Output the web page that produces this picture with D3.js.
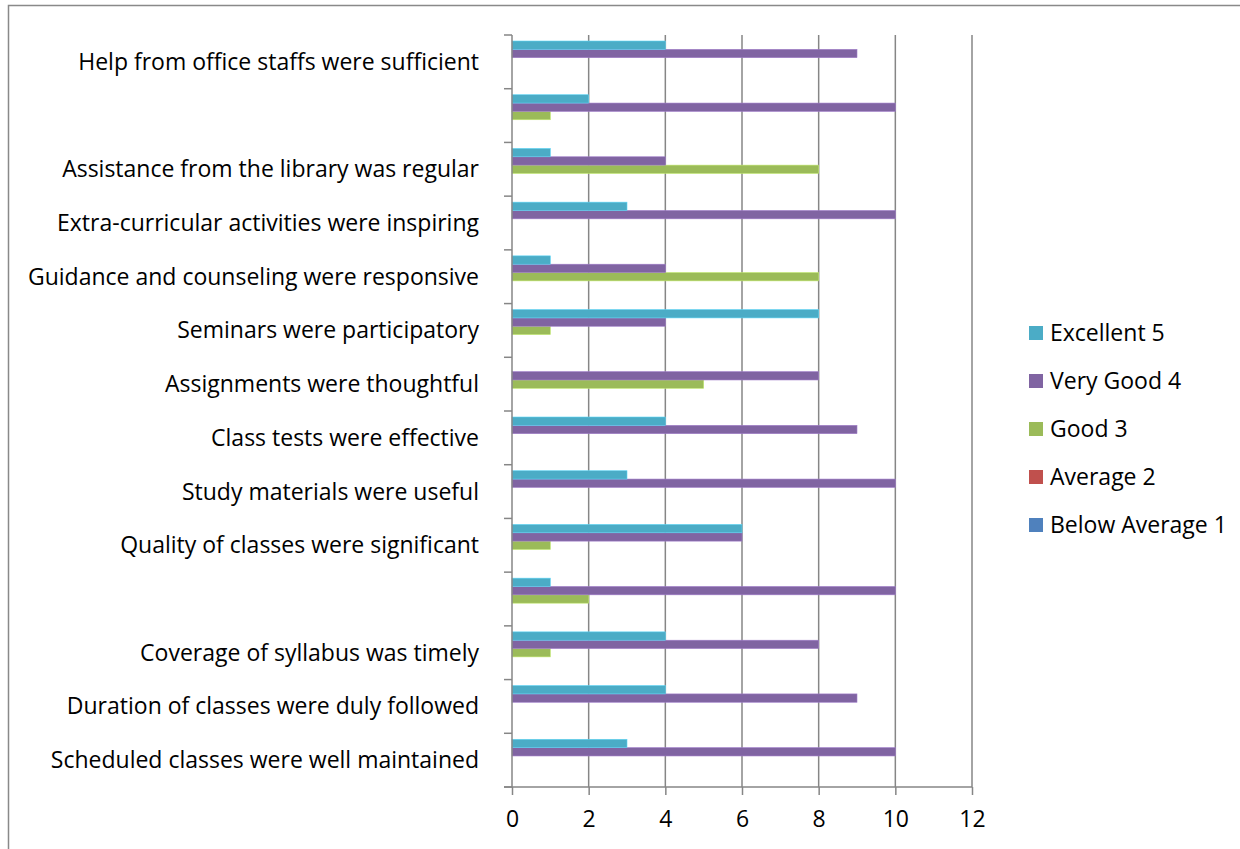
<!DOCTYPE html>
<html>
<head>
<meta charset="utf-8">
<script src="https://cdn.jsdelivr.net/npm/d3@7"></script>
<style>
  body { margin: 0; background: #fff; }
  text { font-family: "Open Sans", sans-serif; fill: #000; }
</style>
</head>
<body>
<div class="chart"></div>
<script>
// categories, bottom to top as in the sheet (two rows have no label)
const categories = [
  "Scheduled classes were well maintained",
  "Duration of classes were duly followed",
  "Coverage of syllabus was timely",
  "",
  "Quality of classes were significant",
  "Study materials were useful",
  "Class tests were effective",
  "Assignments were thoughtful",
  "Seminars were participatory",
  "Guidance and counseling were responsive",
  "Extra-curricular activities were inspiring",
  "Assistance from the library was regular",
  " ",
  "Help from office staffs were sufficient"
];

const seriesNames = ["Below Average 1", "Average 2", "Good 3", "Very Good 4", "Excellent 5"];
const seriesColors = ["#4F81BD", "#C0504D", "#9BBB59", "#8064A2", "#4BACC6"];

const belowAverage = [0, 0, 0, 0, 0, 0, 0, 0, 0, 0, 0, 0, 0, 0];
const average      = [0, 0, 0, 0, 0, 0, 0, 0, 0, 0, 0, 0, 0, 0];
const good         = [0, 0, 1, 2, 1, 0, 0, 5, 1, 8, 0, 8, 1, 0];
const veryGood     = [10, 9, 8, 10, 6, 10, 9, 8, 4, 4, 10, 4, 10, 9];
const excellent    = [3, 4, 4, 1, 6, 3, 4, 0, 8, 1, 3, 1, 2, 4];

const xTicks = [0, 2, 4, 6, 8, 10, 12];

const seriesValues = [belowAverage, average, good, veryGood, excellent];

const W = 1240, H = 849;
const margin = { top: 35, left: 512 };
const width = 460, height = 752;
const fontSize = "23px";

const svg = d3.select(".chart").append("svg")
  .attr("width", W).attr("height", H);

// chart frame
svg.append("rect")
  .attr("x", 8.5).attr("y", 5.5)
  .attr("width", W).attr("height", H)
  .attr("fill", "none").attr("stroke", "#898989").attr("stroke-width", 1.5);

const g = svg.append("g").attr("transform", `translate(${margin.left}, ${margin.top})`);

const xScale = d3.scaleLinear().domain([0, 12]).range([0, width]);
// top of chart is the last category
const yScale = d3.scaleBand().domain(d3.range(categories.length).reverse()).range([0, height]);
const inner = d3.scaleBand().domain(d3.range(5).reverse())
  .range([0, yScale.bandwidth()]).paddingOuter(0.72).paddingInner(0);

// gridlines
g.selectAll(".grid").data(xTicks.slice(1)).enter().append("line")
  .attr("x1", d => xScale(d)).attr("x2", d => xScale(d))
  .attr("y1", 0).attr("y2", height)
  .attr("stroke", "#868686").attr("stroke-width", 1.5);

// bars
seriesValues.forEach((vals, s) => {
  g.selectAll(".bar-" + s).data(vals).enter().append("rect")
    .attr("x", 0)
    .attr("y", (d, i) => yScale(i) + inner(s))
    .attr("width", d => xScale(d))
    .attr("height", inner.bandwidth())
    .attr("fill", seriesColors[s])
    .attr("stroke", d3.color(seriesColors[s]).brighter(0.6))
    .attr("stroke-width", 0.6);
});

// y axis: ticks at band boundaries
const boundaries = d3.range(categories.length + 1).map(i => i * yScale.step());
g.selectAll(".ytick").data(boundaries).enter().append("line")
  .attr("x1", -8).attr("x2", 0)
  .attr("y1", d => d).attr("y2", d => d)
  .attr("stroke", "#868686").attr("stroke-width", 1.5);
g.append("line").attr("x1", 0).attr("x2", 0).attr("y1", 0).attr("y2", height)
  .attr("stroke", "#868686").attr("stroke-width", 1.5);

g.selectAll(".ylabel").data(categories).enter().append("text")
  .attr("x", -33)
  .attr("y", (d, i) => yScale(i) + yScale.bandwidth() / 2)
  .attr("dy", "0.35em")
  .attr("text-anchor", "end")
  .style("font-size", fontSize)
  .text(d => d.trim());

// x axis
const xAxis = d3.axisBottom(xScale).tickValues(xTicks).tickSize(8).tickPadding(16)
  .tickFormat(d3.format("d"));
const xg = g.append("g").attr("transform", `translate(0, ${height})`).call(xAxis);
xg.select(".domain").attr("stroke", "#868686").attr("stroke-width", 1.5)
  .attr("d", `M-8,0H${width}`);
xg.selectAll(".tick line").attr("stroke", "#868686").attr("stroke-width", 1.5);
xg.selectAll(".tick text").style("font-size", fontSize).style("font-family", "'Open Sans', sans-serif");

// legend, top entry is Excellent
const legendOrder = [4, 3, 2, 1, 0];
const legend = svg.append("g").attr("transform", "translate(1029, 333)");
const items = legend.selectAll(".item").data(legendOrder).enter().append("g")
  .attr("transform", (d, i) => `translate(0, ${i * 48})`);
items.append("rect").attr("x", 0).attr("y", -7).attr("width", 14).attr("height", 14)
  .attr("fill", d => seriesColors[d]);
items.append("text").attr("x", 21).attr("y", 0).attr("dy", "0.35em")
  .style("font-size", fontSize)
  .text(d => seriesNames[d]);
</script>
</body>
</html>
